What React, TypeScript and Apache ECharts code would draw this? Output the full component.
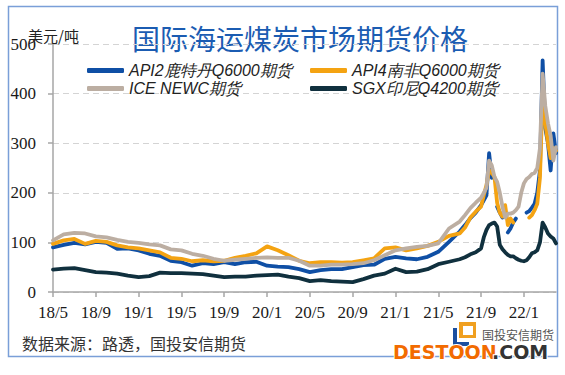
import React, { useEffect, useRef } from "react";
import * as echarts from "echarts";

// months since 2018-05 (0 = 18/5)
const months = [
  0, 1, 2, 3, 4, 5, 6, 7, 8, 9, 10, 11, 12, 13, 14, 15, 16, 17, 18, 19, 20, 21, 22, 23, 24, 25, 26, 27, 28, 29, 30, 31, 32, 33, 34, 35, 36, 37, 38,
  38.5, 39, 39.5, 40,
  40.25, 40.5, 40.75, 41, 41.25, 41.5, 41.75, 42, 42.25, 42.5, 42.75, 43, 43.25, 43.5, 43.75, 44, 44.25, 44.5, 44.75, 45, 45.25, 45.5, 45.75, 46, 46.25, 46.5, 46.75, 47,
];

type V = number | null;

const api2: V[] = [
  90, 95, 99, 96, 101, 99, 87, 88, 84, 77, 73, 63, 60, 53, 58, 56, 60, 56, 60, 61, 53, 51, 50, 46, 40, 44, 46, 46, 50, 54, 55, 67, 71, 68, 66, 71, 81, 101, 122,
  135, 149, 160, 175,
  185, 195, 280, 230, null, 172, 160, 150, null, 120, 128, 140, 148, null, null, null, 160, 163, 170, 178, 200, 245, 467, 330, 300, 245, 320, 280,
];

const api4: V[] = [
  97, 104, 107, 97, 103, 101, 94, 90, 88, 84, 80, 69, 67, 62, 64, 62, 63, 69, 73, 78, 92, 84, 74, 63, 58, 60, 60, 59, 60, 64, 68, 88, 90, 84, 88, 93, 101, 113, 118,
  130, 150, 162, 172,
  195, 215, 245, 240, 232, 180, 160, 152, 175, 135, 148, 140, null, null, null, null, null, 150, 155, 165, 178, 230, 400, 340, 300, 270, 290, 285,
];

const ice: V[] = [
  104, 116, 119, 118, 112, 110, 105, 101, 99, 96, 94, 86, 84, 77, 73, 67, 63, 65, 67, 69, 70, 69, 69, 63, 53, 53, 55, 55, 56, 58, 64, 74, 84, 88, 91, 93, 98, 128, 142,
  155, 169, 180, 190,
  200, 210, 265, 255, 232, 222, 200, 172, 150, 158, 158, 160, 165, 172, 200, 219, 228, 232, 238, 240, 250, 290, 440, 375, 340, 315, 265, 292,
];

const sgx: V[] = [
  45, 47, 48, 44, 40, 39, 37, 33, 30, 32, 39, 38, 38, 37, 36, 33, 30, 31, 31, 33, 34, 35, 31, 28, 22, 24, 22, 21, 20, 26, 33, 37, 47, 40, 41, 46, 56, 61, 66,
  70, 76, 80, 88,
  110, 125, 135, 138, 140, 132, 95, 86, 80, 75, 72, 72, 68, 65, 63, 62, 64, 70, 78, 80, 84, 100, 140, 130, 118, 112, 108, 98,
];

const seriesNames = ["API2鹿特丹Q6000期货", "API4南非Q6000期货", "ICE NEWC期货", "SGX印尼Q4200期货"];
const seriesColors = ["#0f4fa5", "#f4a312", "#bcaea2", "#10303e"];

const title = "国际海运煤炭市场期货价格";
const unit = "美元/吨";
const source = "数据来源：路透，国投安信期货";

const serif = "Times New Roman, Liberation Serif, serif";
const cjk = '"Noto Sans CJK SC", sans-serif';

function toData(vals: V[]) {
  return months.map((m, i) => [m, vals[i] === null ? "-" : vals[i]]);
}

function monthLabel(v: number) {
  const total = 4 + Math.round(v);
  const year = 18 + Math.floor(total / 12);
  const month = (total % 12) + 1;
  return `${year}/${month}`;
}

export default function App() {
  const ref = useRef<HTMLDivElement>(null);
  useEffect(() => {
    if (!ref.current) return;
    const chart = echarts.init(ref.current, null, { renderer: "svg" });
    const allVals = [api2, api4, ice, sgx];
    const legendText = {
      fontSize: 16,
      fontStyle: "italic" as const,
      fontFamily: "Liberation Sans",
      color: "#222",
      lineHeight: 17,
    };
    const legendBase = {
      orient: "vertical",
      top: 57,
      itemWidth: 37,
      itemHeight: 5,
      itemGap: 1,
      icon: "roundRect",
      textStyle: legendText,
    };
    chart.setOption({
      animation: false,
      backgroundColor: "#ffffff",
      grid: { left: 53, right: 9, top: 44, bottom: 83, containLabel: false },
      legend: [
        { ...legendBase, left: 82, data: [seriesNames[0], seriesNames[2]] },
        { ...legendBase, left: 305, data: [seriesNames[1], seriesNames[3]] },
      ],
      xAxis: {
        type: "value",
        min: 0,
        max: 47,
        interval: 4,
        axisLine: { show: true, lineStyle: { color: "#a6a6a6", width: 1.5 } },
        axisTick: { show: true, length: 5, lineStyle: { color: "#a6a6a6", width: 1.5 } },
        splitLine: { show: false },
        axisLabel: {
          margin: 12,
          fontFamily: serif,
          fontSize: 17,
          color: "#1a1a1a",
          showMaxLabel: false,
          formatter: (v: number) => monthLabel(v),
        },
      },
      yAxis: {
        type: "value",
        min: 0,
        max: 500,
        interval: 100,
        axisLine: { show: true, lineStyle: { color: "#a6a6a6", width: 1.5 } },
        axisTick: { show: true, length: 5, lineStyle: { color: "#a6a6a6", width: 1.5 } },
        splitLine: { show: true, lineStyle: { color: "#d4d4d4", type: [6, 4], width: 1 } },
        axisLabel: { margin: 17, fontFamily: serif, fontSize: 17, color: "#1a1a1a" },
      },
      series: seriesNames.map((name, i) => ({
        name,
        type: "line",
        data: toData(allVals[i]),
        showSymbol: false,
        symbol: "none",
        connectNulls: false,
        lineStyle: { color: seriesColors[i], width: 3.8, cap: "round", join: "round" },
        itemStyle: { color: seriesColors[i] },
        z: 2 + i,
      })),
      graphic: [
        {
          type: "rect",
          shape: { x: 8.5, y: 6.5, width: 549, height: 350 },
          style: { fill: "none", stroke: "#7a9fd8", lineWidth: 1.5 },
          silent: true,
        },
        {
          type: "text",
          x: 300,
          y: 38,
          style: {
            text: title,
            fill: "#1b5cb2",
            font: `28px ${cjk}`,
            textAlign: "center",
            textVerticalAlign: "middle",
          },
        },
        {
          type: "text",
          x: 28,
          y: 35,
          z: 10,
          style: { text: unit, fill: "#222", font: `15px ${cjk}`, textVerticalAlign: "middle" },
        },
        {
          type: "text",
          x: 22,
          y: 343,
          style: { text: source, fill: "#333", font: `16px ${cjk}`, textVerticalAlign: "middle" },
        },
        {
          type: "rect",
          shape: { x: 459, y: 322, width: 17, height: 16 },
          style: { fill: "#f0a020" },
        },
        {
          type: "rect",
          shape: { x: 463, y: 326, width: 10, height: 9 },
          style: { fill: "#ffffff" },
        },
        {
          type: "rect",
          shape: { x: 453, y: 328, width: 4, height: 18 },
          style: { fill: "#1b4fa0" },
        },
        {
          type: "rect",
          shape: { x: 453, y: 342, width: 16, height: 4 },
          style: { fill: "#1b4fa0" },
        },
        {
          type: "text",
          x: 482,
          y: 334,
          style: { text: "国投安信期货", fill: "#555", font: `12px ${cjk}`, textVerticalAlign: "middle" },
        },
        {
          type: "text",
          x: 393,
          y: 352,
          z: 20,
          style: {
            text: "DESTOON",
            fill: "#f26b00",
            stroke: "#ffffff",
            lineWidth: 2,
            font: `bold 19px "DejaVu Sans", sans-serif`,
            textVerticalAlign: "middle",
          },
        },
        {
          type: "text",
          x: 492,
          y: 352,
          z: 20,
          style: {
            text: ".COM",
            fill: "#333333",
            stroke: "#ffffff",
            lineWidth: 2,
            font: `bold 19px "DejaVu Sans", sans-serif`,
            textVerticalAlign: "middle",
          },
        },
      ],
    });
    return () => chart.dispose();
  }, []);
  return (
    <div
      ref={ref}
      style={{ position: "absolute", left: 0, top: 0, width: 565, height: 375, background: "#fff" }}
    />
  );
}
